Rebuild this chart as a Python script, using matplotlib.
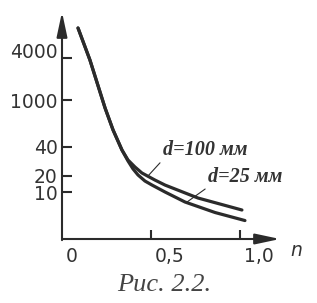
import numpy as np
import matplotlib
matplotlib.use('Agg')
import matplotlib.pyplot as plt
from matplotlib.transforms import ScaledTranslation

# кривые (n, значение)
n_100 = [0.090, 0.157, 0.242, 0.287, 0.337, 0.371, 0.410, 0.449, 0.522, 0.579, 0.764, 1.011]
v_100 = [10700, 3740, 578, 128, 37.2, 29.3, 24.8, 21.5, 16.8, 13.5, 7.45, 4.14]
n_25 = [0.090, 0.157, 0.242, 0.287, 0.337, 0.371, 0.399, 0.427, 0.466, 0.506, 0.579, 0.691, 0.860, 1.028]
v_25 = [10700, 3740, 578, 128, 37.2, 28.6, 23.7, 20.5, 16.1, 13.5, 10.0, 6.13, 3.66, 2.47]

y_ticks = [10, 20, 40, 1000, 4000]
y_labels = ['10', '20', '40', '1000', '4000']
x_ticks = [0, 0.5, 1.0]
x_labels = ['0', '0,5', '1,0']

# нелинейная (схематичная) шкала оси Y
LOGS = [0, 1, 1.301, 1.602, 3.0, 3.602, 4.5]
HS = [0, 47, 63, 92, 139, 181, 244]

def fwd(v):
    return np.interp(np.log10(np.clip(v, 1e-6, None)), LOGS, HS)

def inv(h):
    return 10 ** np.interp(h, HS, LOGS)

ink = '#2b2b2b'

fig = plt.figure(figsize=(3.17, 3.03), dpi=100)
ax = fig.add_axes([62/317, 64/303, 218/317, 227/303])
ax.set_yscale('function', functions=(fwd, inv))
ax.set_xlim(0, 1.225)
ax.set_ylim(1, inv(227))

ax.plot(n_100, v_100, color=ink, lw=2.3, solid_capstyle='round', solid_joinstyle='round')
ax.plot(n_25, v_25, color=ink, lw=2.3, solid_capstyle='round', solid_joinstyle='round')

for s in ax.spines.values():
    s.set_visible(False)

arrow = dict(arrowstyle='-|>,head_length=1.5,head_width=0.32', color=ink,
             lw=1.5, shrinkA=0, shrinkB=0, mutation_scale=10)
ax.annotate('', xy=(1, 0), xytext=(0, 0), xycoords='axes fraction', arrowprops=arrow)
ax.annotate('', xy=(0, 1), xytext=(0, -0.005), xycoords='axes fraction', arrowprops=arrow)

ax.set_yticks(y_ticks)
ax.set_yticklabels(y_labels)
ax.yaxis.set_minor_locator(plt.NullLocator())
ax.tick_params(axis='y', direction='in', length=7, width=1.5, color=ink,
               labelsize=13.5, pad=3, labelcolor='#333333')
ax.get_yticklabels()[-1].set_va('baseline')

ax.set_xticks(x_ticks[1:])
ax.set_xticklabels([])
ax.tick_params(axis='x', direction='in', length=6.5, width=1.5, color=ink)

off = ScaledTranslation(0.04, -0.175, fig.dpi_scale_trans)
for x, lab in zip(x_ticks, x_labels):
    ax.text(x, 0, lab, transform=ax.get_xaxis_transform() + off,
            ha='left', va='center', fontsize=13.5, color='#333333')

fnt = dict(family='Liberation Serif', weight='bold', style='italic', size=14.5, color='#333333')
lead = dict(arrowstyle='-', color=ink, lw=0.8, shrinkA=0, shrinkB=0, relpos=(0, 0))
ax.annotate('d=100 мм', xy=(0.483, 20), xytext=(0.565, 33), textcoords='data',
            ha='left', va='baseline', arrowprops=lead, **fnt)
ax.annotate('d=25 мм', xy=(0.702, 6.1), xytext=(0.82, 15.4), textcoords='data',
            ha='left', va='baseline', arrowprops=lead, **fnt)

fig.text(296/317, 1 - 250/303, 'n', style='italic', fontsize=13.5, color='#333333',
         ha='center', va='center')
fig.text(164/317, 1 - 285/303, 'Рис. 2.2.', family='Liberation Serif', style='italic',
         fontsize=19, color='#444444', ha='center', va='center')

fig.savefig('out.png', dpi=100)
